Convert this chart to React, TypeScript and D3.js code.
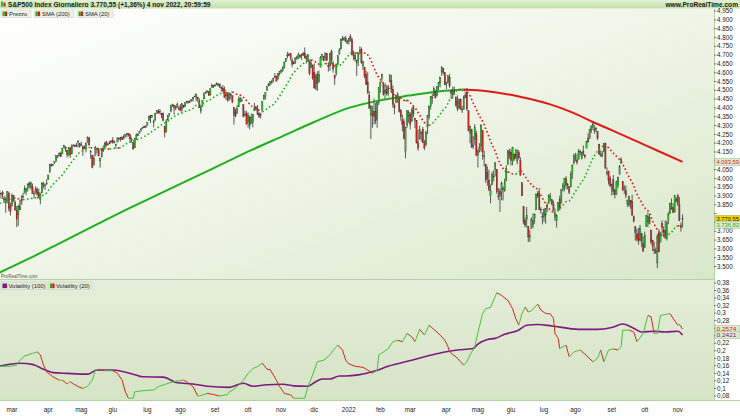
import React from "react";
import * as d3 from "d3";

type Bar = [number, number, number, number]; // open, high, low, close

// ---- daily OHLC, S&P 500, per month ----
const feb21: Bar[] = [
  [3918,3933,3900,3931.33],[3915,3921,3885,3913.97],[3921,3931,3884,3906.71],[3885,3902,3867,3876.5],
  [3857,3895,3805,3881.37],[3873,3928,3859,3925.43],[3915,3925,3814,3829.34],[3839,3862,3789,3811.15],
];
const mar21: Bar[] = [
  [3842,3914,3842,3901.82],[3903,3906,3868,3870.29],[3863,3874,3818,3819.72],[3818,3843,3723,3768.47],
  [3793,3851,3730,3841.94],[3844,3881,3822,3821.35],[3852,3904,3852,3875.44],[3891,3918,3885,3898.81],
  [3916,3960,3916,3939.34],[3924,3944,3905,3943.34],[3943,3970,3924,3968.94],[3974,3981,3944,3962.71],
  [3949,3983,3935,3974.12],[3953,3971,3914,3915.46],[3913,3930,3886,3913.1],[3916,3955,3916,3940.59],
  [3937,3949,3901,3910.52],[3919,3942,3889,3889.14],[3879,3919,3853,3909.52],[3917,3978,3917,3974.54],
  [3969,3981,3943,3971.09],[3963,3969,3935,3958.55],[3967,3994,3964,3972.89],
];
const apr21: Bar[] = [
  [3992,4020,3992,4019.87],[4034,4083,4034,4077.91],[4076,4086,4068,4073.94],[4074,4083,4068,4079.95],
  [4089,4098,4082,4097.17],[4096,4129,4096,4128.8],[4125,4131,4114,4127.99],[4130,4148,4124,4141.59],
  [4141,4151,4120,4124.66],[4139,4173,4139,4170.42],[4175,4191,4171,4185.47],[4179,4180,4151,4163.26],
  [4159,4160,4118,4134.94],[4128,4175,4126,4173.42],[4171,4179,4116,4134.98],[4138,4194,4138,4180.17],
  [4185,4194,4183,4187.62],[4188,4193,4176,4186.72],[4185,4201,4181,4183.18],[4206,4218,4176,4211.47],
  [4198,4198,4174,4181.17],
];
const may21: Bar[] = [
  [4191,4209,4188,4192.66],[4180,4187,4128,4164.66],[4177,4187,4166,4167.59],[4170,4202,4147,4201.62],
  [4210,4238,4201,4232.6],[4229,4236,4188,4188.43],[4150,4162,4111,4152.1],[4131,4134,4057,4063.04],
  [4075,4131,4075,4112.5],[4130,4183,4130,4173.85],[4169,4172,4143,4163.29],[4166,4170,4125,4127.83],
  [4099,4117,4061,4115.68],[4121,4172,4121,4159.12],[4169,4188,4151,4155.86],[4170,4209,4170,4197.05],
  [4205,4214,4182,4188.13],[4191,4203,4187,4195.99],[4201,4213,4197,4200.88],[4210,4219,4203,4204.11],
];
const jun21: Bar[] = [
  [4216,4234,4197,4202.04],[4206,4215,4198,4208.12],[4191,4197,4168,4192.85],[4206,4233,4206,4229.89],
  [4229,4232,4215,4226.52],[4233,4236,4210,4227.26],[4232,4238,4218,4219.55],[4229,4249,4220,4239.18],
  [4243,4249,4232,4247.44],[4248,4255,4234,4255.15],[4255,4257,4238,4246.59],[4248,4251,4203,4223.7],
  [4220,4233,4203,4221.86],[4204,4205,4164,4166.45],[4173,4226,4173,4224.79],[4224,4255,4218,4246.44],
  [4249,4256,4241,4241.84],[4256,4271,4256,4266.49],[4274,4286,4267,4280.7],[4285,4292,4281,4290.61],
  [4293,4300,4287,4291.8],[4290,4302,4287,4297.5],
];
const jul21: Bar[] = [
  [4300,4320,4300,4319.94],[4327,4355,4327,4352.34],[4357,4358,4314,4343.54],[4351,4361,4342,4358.13],
  [4321,4334,4289,4320.82],[4329,4372,4329,4369.55],[4373,4386,4366,4384.63],[4381,4393,4369,4369.21],
  [4381,4393,4363,4374.3],[4369,4370,4341,4360.03],[4368,4375,4324,4327.16],[4297,4297,4233,4258.49],
  [4265,4337,4259,4323.06],[4331,4359,4330,4358.69],[4362,4369,4351,4367.48],[4381,4415,4375,4411.79],
  [4410,4422,4406,4422.3],[4416,4416,4360,4401.46],[4402,4415,4387,4400.64],[4403,4430,4403,4419.15],
  [4396,4412,4387,4395.26],
];
const aug21: Bar[] = [
  [4406,4422,4381,4387.16],[4392,4423,4374,4423.15],[4416,4416,4400,4402.66],[4409,4429,4405,4429.1],
  [4429,4441,4425,4436.52],[4437,4440,4424,4432.35],[4436,4445,4429,4436.75],[4442,4449,4436,4447.7],
  [4447,4461,4435,4460.83],[4464,4468,4461,4468],[4461,4480,4437,4479.71],[4462,4462,4435,4448.08],
  [4440,4454,4400,4400.27],[4382,4418,4368,4405.8],[4410,4444,4407,4441.67],[4450,4489,4450,4479.53],
  [4484,4492,4482,4486.23],[4490,4501,4485,4496.19],[4493,4496,4469,4470],[4474,4509,4469,4509.37],
  [4514,4538,4514,4528.79],[4529,4531,4513,4522.68],
];
const sep21: Bar[] = [
  [4529,4537,4522,4524.09],[4534,4545,4528,4536.95],[4532,4541,4521,4535.43],[4536,4536,4513,4520.03],
  [4518,4521,4493,4514.07],[4513,4530,4493,4493.28],[4506,4521,4458,4458.58],[4474,4492,4446,4468.73],
  [4479,4485,4435,4443.05],[4447,4486,4441,4480.7],[4477,4485,4448,4473.75],[4469,4471,4427,4432.99],
  [4402,4403,4305,4357.73],[4375,4394,4347,4354.19],[4367,4416,4367,4395.64],[4406,4465,4406,4448.98],
  [4438,4463,4431,4455.48],[4442,4457,4437,4443.11],[4419,4419,4346,4352.63],[4362,4385,4353,4359.46],
  [4370,4382,4306,4307.54],
];
const oct21: Bar[] = [
  [4317,4375,4288,4357.04],[4348,4356,4278,4300.46],[4310,4369,4309,4345.72],[4319,4365,4290,4363.55],
  [4383,4429,4383,4399.76],[4406,4412,4386,4391.34],[4390,4416,4360,4361.19],[4368,4374,4342,4350.65],
  [4359,4372,4341,4363.8],[4387,4439,4387,4438.26],[4447,4475,4447,4471.37],[4463,4488,4447,4486.46],
  [4497,4520,4497,4519.63],[4524,4540,4524,4536.19],[4532,4551,4527,4549.78],[4547,4560,4538,4544.9],
  [4553,4572,4544,4566.48],[4579,4598,4570,4574.79],[4580,4584,4551,4551.68],[4563,4598,4562,4596.42],
  [4595,4608,4583,4605.38],
];
const nov21: Bar[] = [
  [4611,4620,4595,4613.67],[4614,4635,4604,4630.65],[4630,4664,4623,4660.57],[4662,4683,4662,4680.06],
  [4700,4718,4681,4697.53],[4702,4714,4697,4701.7],[4707,4708,4670,4685.25],[4670,4685,4630,4646.71],
  [4659,4665,4648,4649.27],[4655,4688,4651,4682.85],[4689,4697,4672,4682.8],[4679,4714,4679,4700.9],
  [4701,4701,4684,4688.67],[4700,4708,4672,4704.54],[4708,4717,4694,4697.96],[4712,4743,4682,4682.94],
  [4678,4699,4652,4690.7],[4675,4702,4659,4701.46],[4664,4664,4585,4594.62],[4628,4672,4626,4655.27],
  [4640,4647,4560,4567],
];
const dec21: Bar[] = [
  [4602,4652,4510,4513.04],[4504,4595,4504,4577.1],[4589,4608,4496,4538.43],[4548,4613,4541,4591.67],
  [4631,4694,4631,4686.75],[4690,4705,4670,4701.21],[4691,4695,4665,4667.45],[4688,4713,4666,4712.02],
  [4710,4710,4667,4668.97],[4642,4660,4606,4634.09],[4636,4712,4611,4709.85],[4720,4731,4651,4668.67],
  [4652,4666,4600,4620.64],[4587,4587,4531,4568.02],[4594,4651,4583,4649.23],[4645,4697,4645,4696.56],
  [4704,4740,4703,4725.79],[4733,4791,4733,4791.19],[4795,4808,4780,4786.35],[4788,4805,4778,4793.06],
  [4795,4808,4775,4778.73],[4775,4787,4766,4766.18],
];
const jan22: Bar[] = [
  [4778,4797,4759,4796.56],[4804,4819,4775,4793.54],[4787,4798,4699,4700.58],[4693,4726,4671,4696.05],
  [4697,4707,4663,4677.03],[4655,4674,4582,4670.29],[4669,4714,4638,4713.07],[4728,4749,4702,4726.35],
  [4733,4744,4650,4659.03],[4637,4666,4615,4662.85],[4632,4632,4568,4577.11],[4588,4611,4530,4532.76],
  [4547,4602,4483,4482.73],[4472,4494,4395,4397.94],[4357,4417,4223,4410.13],[4366,4412,4287,4356.45],
  [4381,4453,4305,4349.93],[4380,4428,4309,4326.51],[4337,4432,4287,4431.85],[4431,4516,4415,4515.55],
];
const feb22: Bar[] = [
  [4519,4550,4484,4546.54],[4566,4595,4544,4589.38],[4536,4542,4470,4477.44],[4483,4540,4452,4500.53],
  [4505,4521,4471,4483.87],[4480,4531,4465,4521.54],[4547,4590,4547,4587.18],[4554,4588,4484,4504.08],
  [4506,4527,4401,4418.64],[4413,4426,4364,4401.67],[4429,4472,4429,4471.07],[4455,4489,4429,4475.01],
  [4456,4456,4373,4380.26],[4385,4395,4328,4348.87],[4332,4362,4267,4304.76],[4325,4340,4221,4225.5],
  [4155,4294,4114,4288.7],[4299,4385,4287,4384.65],[4354,4388,4315,4373.94],
];
const mar22: Bar[] = [
  [4363,4375,4279,4306.26],[4322,4401,4322,4386.54],[4401,4417,4345,4363.49],[4342,4343,4285,4328.87],
  [4327,4327,4199,4201.09],[4203,4276,4157,4170.7],[4223,4299,4223,4277.88],[4252,4268,4209,4259.52],
  [4279,4292,4200,4204.31],[4203,4218,4161,4173.11],[4188,4271,4187,4262.45],[4288,4358,4251,4357.86],
  [4345,4412,4335,4411.67],[4407,4465,4390,4463.12],[4462,4481,4424,4461.18],[4469,4522,4469,4511.61],
  [4493,4501,4455,4456.24],[4469,4520,4465,4520.16],[4523,4546,4501,4543.06],[4541,4576,4517,4575.52],
  [4603,4637,4581,4631.6],[4624,4627,4588,4602.45],[4599,4604,4530,4530.41],
];
const apr22: Bar[] = [
  [4540,4548,4507,4545.86],[4547,4583,4539,4582.64],[4573,4593,4514,4525.12],[4495,4504,4450,4481.15],
  [4474,4521,4451,4500.21],[4494,4521,4473,4488.28],[4462,4464,4408,4412.53],[4437,4471,4381,4397.45],
  [4398,4453,4392,4446.59],[4449,4453,4392,4392.59],[4385,4411,4371,4391.69],[4390,4471,4390,4462.21],
  [4473,4489,4455,4459.45],[4489,4513,4384,4393.66],[4385,4386,4267,4271.78],[4255,4300,4200,4296.12],
  [4278,4278,4175,4175.2],[4186,4240,4167,4183.96],[4222,4308,4188,4287.5],[4253,4270,4128,4131.93],
];
const may22: Bar[] = [
  [4130,4169,4062,4155.38],[4159,4200,4147,4175.48],[4181,4308,4152,4300.17],[4270,4270,4106,4146.87],
  [4128,4157,4067,4123.34],[4081,4081,3975,3991.24],[4035,4068,3958,4001.05],[3991,4050,3928,3935.18],
  [3903,3964,3859,3930.08],[3963,4038,3963,4023.89],[4014,4046,3983,4008.01],[4052,4089,4011,4088.85],
  [4052,4052,3912,3923.68],[3900,3945,3877,3900.79],[3927,3943,3810,3901.36],[3920,3982,3876,3973.75],
  [3942,3955,3875,3941.48],[3929,3999,3925,3978.73],[3985,4075,3985,4057.84],[4078,4158,4078,4158.24],
  [4151,4169,4110,4132.15],
];
const jun22: Bar[] = [
  [4149,4166,4073,4101.23],[4096,4177,4074,4176.82],[4137,4142,4098,4108.54],[4134,4168,4109,4121.43],
  [4097,4164,4080,4160.68],[4147,4160,4107,4115.77],[4101,4120,4017,4017.82],[3975,3975,3900,3900.86],
  [3839,3839,3740,3749.63],[3763,3779,3722,3735.48],[3765,3838,3722,3789.99],[3729,3729,3639,3666.77],
  [3665,3708,3639,3674.84],[3715,3779,3715,3764.79],[3733,3801,3717,3759.89],[3774,3802,3743,3795.73],
  [3821,3913,3821,3911.74],[3913,3928,3889,3900.11],[3913,3945,3820,3821.55],[3826,3837,3800,3818.83],
  [3785,3807,3739,3785.38],
];
const jul22: Bar[] = [
  [3781,3829,3753,3825.33],[3792,3832,3743,3831.39],[3831,3863,3810,3845.08],[3858,3910,3858,3902.62],
  [3888,3918,3869,3899.38],[3880,3880,3847,3854.43],[3851,3874,3817,3818.8],[3779,3829,3758,3801.78],
  [3763,3796,3721,3790.38],[3819,3864,3817,3863.16],[3883,3902,3818,3830.85],[3860,3939,3860,3936.69],
  [3936,3975,3925,3959.9],[3955,3999,3927,3998.95],[4000,4013,3939,3961.63],[3965,3975,3937,3966.84],
  [3953,3953,3911,3921.05],[3951,4040,3951,4023.61],[4027,4079,3996,4072.43],[4088,4140,4079,4130.29],
];
const aug22: Bar[] = [
  [4113,4144,4097,4118.63],[4105,4141,4079,4091.19],[4107,4167,4107,4155.17],[4154,4162,4129,4151.94],
  [4115,4152,4107,4145.19],[4155,4187,4128,4140.06],[4133,4137,4112,4122.47],[4171,4211,4171,4210.24],
  [4227,4257,4201,4207.27],[4225,4280,4225,4280.15],[4269,4301,4257,4297.14],[4290,4325,4277,4305.2],
  [4280,4302,4253,4274.04],[4273,4292,4262,4283.74],[4267,4267,4218,4228.48],[4195,4195,4132,4137.99],
  [4133,4159,4124,4128.73],[4127,4156,4120,4140.77],[4154,4200,4147,4199.12],[4199,4203,4057,4057.66],
  [4034,4062,4017,4030.61],[4041,4044,3965,3986.16],[4000,4015,3954,3955],
];
const sep22: Bar[] = [
  [3936,3971,3903,3966.85],[3994,4019,3906,3924.26],[3930,3942,3886,3908.19],[3910,3987,3906,3979.87],
  [3959,4010,3944,4006.18],[4022,4076,4022,4067.36],[4083,4119,4083,4110.41],[3983,3985,3930,3932.69],
  [3940,3961,3913,3946.01],[3932,3959,3888,3901.35],[3860,3880,3838,3873.33],[3849,3900,3839,3899.89],
  [3875,3876,3827,3855.93],[3871,3907,3789,3789.93],[3782,3790,3749,3757.99],[3727,3727,3647,3693.23],
  [3682,3716,3644,3655.04],[3687,3717,3623,3647.29],[3651,3736,3640,3719.04],[3687,3687,3610,3640.47],
  [3633,3671,3584,3585.62],
];
const oct22: Bar[] = [
  [3609,3698,3604,3678.43],[3726,3791,3726,3790.93],[3753,3806,3723,3783.28],[3777,3797,3739,3744.52],
  [3706,3709,3627,3639.66],[3647,3652,3588,3612.39],[3595,3641,3570,3588.84],[3590,3608,3573,3577.03],
  [3520,3685,3491,3669.91],[3690,3712,3581,3583.07],[3638,3695,3638,3677.95],[3746,3762,3687,3719.98],
  [3703,3728,3666,3695.16],[3706,3762,3657,3665.78],[3657,3757,3647,3752.75],[3762,3810,3741,3797.34],
  [3799,3862,3799,3859.11],[3825,3886,3825,3830.6],[3834,3860,3803,3807.3],[3808,3905,3808,3901.06],
  [3882,3893,3864,3871.98],
];
const nov22: Bar[] = [
  [3901,3911,3843,3856.1],[3853,3894,3758,3759.69],[3734,3750,3698,3719.89],[3766,3796,3721,3770.55],
];

// closes before the visible window (for the 20-day average)
const preCloses = [
  3851.85,3853.07,3841.47,3855.36,3849.62,3750.77,3787.38,3714.24,3773.86,3826.31,
  3830.17,3871.74,3886.83,3915.59,3911.23,3909.88,3916.38,3934.83,3932.59,
];

const monthBars: Bar[][] = [feb21,mar21,apr21,may21,jun21,jul21,aug21,sep21,oct21,nov21,dec21,
  jan22,feb22,mar22,apr22,may22,jun22,jul22,aug22,sep22,oct22,nov22];
const monthLabels = ["","mar","apr","mag","giu","lug","ago","set","ott","nov","dic",
  "2022","feb","mar","apr","mag","giu","lug","ago","set","ott","nov"];

// SMA(200) at bar indexes
const sma200Idx = [0,20,40,60,80,100,120,140,160,180,200,222,240,260,280,295,310,330,350,365,377,390,405,420,434];
const sma200Val = [3465,3550,3640,3730,3820,3905,3990,4075,4160,4240,4320,4400,4440,4470,4495,4505,4495,4465,4420,4370,4320,4270,4210,4150,4093.59];

// Volatility (20)
const vol20Idx = [0,7,11,13,16,21,24,26,28,30,34,38,40,43,45,47,50,53,56,59,61,63,66,72,75,78,80,82,85,86,89,94,98,101,104,108,113,117,119,123,126,127,132,136,140,145,146,148,151,155,158,161,164,167,170,172,174,176,178,181,185,187,190,194,196,199,202,206,210,213,215,218,220,222,226,231,234,237,240,241,244,247,250,253,256,259,262,264,267,270,273,276,280,283,285,286,290,293,295,297,299,302,304,307,309,312,313,316,319,323,326,328,330,332,334,336,338,342,344,347,350,352,353,355,356,360,362,365,369,372,377,380,382,384,387,390,393,395,396,400,403,405,409,412,414,416,418,420,423,426,428,431,432,434];
const vol20Val = [0.159,0.159,0.162,0.175,0.186,0.193,0.197,0.189,0.162,0.144,0.131,0.122,0.122,0.112,0.118,0.112,0.105,0.1,0.106,0.122,0.149,0.151,0.147,0.147,0.14,0.122,0.091,0.074,0.074,0.091,0.093,0.095,0.096,0.105,0.109,0.115,0.12,0.122,0.118,0.105,0.08,0.08,0.087,0.084,0.08,0.084,0.091,0.095,0.105,0.122,0.14,0.153,0.158,0.167,0.151,0.15,0.136,0.122,0.105,0.087,0.083,0.074,0.074,0.074,0.105,0.136,0.171,0.175,0.189,0.206,0.215,0.202,0.175,0.165,0.159,0.156,0.149,0.14,0.149,0.189,0.197,0.206,0.224,0.228,0.224,0.246,0.237,0.224,0.257,0.242,0.268,0.257,0.242,0.228,0.211,0.197,0.184,0.171,0.162,0.171,0.189,0.211,0.248,0.299,0.312,0.315,0.325,0.354,0.347,0.334,0.312,0.286,0.268,0.299,0.316,0.303,0.306,0.324,0.308,0.299,0.298,0.286,0.246,0.233,0.206,0.215,0.184,0.197,0.202,0.191,0.171,0.18,0.202,0.171,0.202,0.205,0.202,0.211,0.255,0.255,0.25,0.224,0.246,0.294,0.29,0.246,0.246,0.294,0.296,0.299,0.286,0.268,0.27,0.2574];

// Volatility (100)
const vol100Idx = [0,13,21,24,28,34,43,56,62,72,85,91,104,113,123,132,146,155,161,170,180,187,196,201,205,210,216,220,228,239,247,262,272,283,291,301,304,310,315,321,329,335,342,351,368,380,389,396,402,408,416,423,431,434];
const vol100Val = [0.159,0.167,0.164,0.159,0.151,0.142,0.14,0.138,0.149,0.149,0.138,0.131,0.13,0.115,0.112,0.106,0.103,0.114,0.106,0.11,0.111,0.107,0.106,0.118,0.125,0.125,0.133,0.133,0.136,0.147,0.159,0.175,0.186,0.197,0.202,0.206,0.218,0.23,0.233,0.244,0.253,0.268,0.27,0.266,0.257,0.257,0.262,0.271,0.262,0.25,0.252,0.25,0.252,0.2421];

const priceTicks = d3.range(3500, 4951, 50);
const volTicks = d3.range(4, 20).map((k) => k * 0.02);

const titleText = "S&P500 Index Giornaliero 3.770,55 (+1,36%) 4 nov 2022, 20:59:59";
const lastSma200Label = "4.093,59";
const lastCloseLabel = "3.770,55";
const lastSma20Label = "3.736,82";
const lastVol20Label = "0,2574";
const lastVol100Label = "0,2421";
const lastSma20Value = 3736.82;

const GREEN = "#1fae1f";
const RED = "#e01818";
const CGREEN = "#22c022";
const CRED = "#d42020";
const PURPLE = "#7e1a80";
const FONT = "'Liberation Sans', Arial, sans-serif";

const fmtPrice = (v: number) => `${Math.floor(v / 1000)}.${String(Math.round(v % 1000)).padStart(3, "0")}`;
const fmtVol = (v: number) => String(+v.toFixed(2)).replace(".", ",");

function runs(pts: { x: number; y: number }[], up: (i: number) => boolean) {
  const out: { d: string; up: boolean }[] = [];
  let cur: { pts: [number, number][]; up: boolean } | null = null;
  for (let i = 1; i < pts.length; i++) {
    const u = up(i);
    if (!cur || cur.up !== u) {
      if (cur) out.push({ d: "M" + cur.pts.map((p) => p.join(",")).join("L"), up: cur.up });
      cur = { pts: [[pts[i - 1].x, pts[i - 1].y]], up: u };
    }
    cur.pts.push([pts[i].x, pts[i].y]);
  }
  if (cur) out.push({ d: "M" + cur.pts.map((p) => p.join(",")).join("L"), up: cur.up });
  return out;
}

export default function App() {
  const W = 740, H = 416;
  const plotR = 714;
  const upTop = 9, upBot = 279, loTop = 280, loBot = 400;

  const bars: Bar[] = monthBars.flat();
  const monthStarts: number[] = [];
  let acc = 0;
  monthBars.forEach((m) => { monthStarts.push(acc); acc += m.length; });

  const x = d3.scaleLinear().domain([8, 431]).range([12, 677.8]);
  const y = d3.scaleLinear().domain([3500, 4950]).range([266.5, 11]);
  const yv = d3.scaleLinear().domain([0.08, 0.38]).range([396, 283]);

  const closes = bars.map((b) => b[3]);
  const all = preCloses.concat(closes);
  const sma20 = closes.map((_, i) => d3.mean(all.slice(i, i + 20)) as number);
  const smaPts = sma20.map((v, i) => ({ x: x(i), y: y(v) }));
  const smaRuns = runs(smaPts, (i) => sma20[i] >= sma20[i - 1]);

  const line = d3.line<[number, number]>().curve(d3.curveMonotoneX);
  const s200 = sma200Idx.map((idx, k) => [x(idx), y(sma200Val[k])] as [number, number]);
  const peak = d3.maxIndex(sma200Val);
  const s200Up = line(s200.slice(0, peak + 1)) || "";
  const s200Dn = line(s200.slice(peak)) || "";

  const v20Pts = vol20Idx.map((idx, k) => ({ x: x(idx), y: yv(vol20Val[k]) }));
  const v20Runs = runs(v20Pts, (i) => vol20Val[i] >= vol20Val[i - 1]);
  const v100 = d3.line<number>().x((_, k) => x(vol100Idx[k])).y((v) => yv(v)).curve(d3.curveMonotoneX)(vol100Val) || "";

  const bw = 1.3;

  const priceBoxes = [
    { yy: y(sma200Val[sma200Val.length - 1]), label: lastSma200Label, bg: "#dcebd0", fg: RED },
    { yy: y(closes[closes.length - 1]), label: lastCloseLabel, bg: "#f2d400", fg: "#1a1a1a" },
    { yy: y(lastSma20Value), label: lastSma20Label, bg: "#dcebd0", fg: GREEN },
  ];
  const volBoxes = [
    { yy: yv(vol20Val[vol20Val.length - 1]), label: lastVol20Label, bg: "#dcebd0", fg: RED },
    { yy: yv(vol100Val[vol100Val.length - 1]), label: lastVol100Label, bg: "#dcebd0", fg: PURPLE },
  ];
  const hidden = (yy: number, boxes: { yy: number }[]) => boxes.some((b) => Math.abs(b.yy - yy) < 5.5);

  const hiBox = (b: { yy: number; label: string; bg: string; fg: string }, key: string) => (
    <g key={key}>
      <rect x={715} y={b.yy - 3.6} width={25} height={7.2} fill={b.bg} stroke="#9ab88a" strokeWidth={0.5} />
      <text x={716.5} y={b.yy + 2.2} fontSize={6} fill={b.fg} fontFamily={FONT}
        textLength={b.label.length > 6 ? 22.5 : 20} lengthAdjust="spacingAndGlyphs">{b.label}</text>
    </g>
  );

  return (
    <svg width={W} height={H} style={{ position: "absolute", left: 0, top: 0, background: "#fff" }}>
      <defs>
        <linearGradient id="upbg" x1="0" y1="0" x2="1" y2="1">
          <stop offset="0" stopColor="#ffffff" />
          <stop offset="0.45" stopColor="#f1f6ea" />
          <stop offset="1" stopColor="#d9e7c9" />
        </linearGradient>
        <linearGradient id="lobg" x1="0" y1="0" x2="0" y2="1">
          <stop offset="0" stopColor="#e4edd9" />
          <stop offset="1" stopColor="#d6e4c6" />
        </linearGradient>
        <linearGradient id="hdr" x1="0" y1="0" x2="0" y2="1">
          <stop offset="0" stopColor="#e2f2d4" />
          <stop offset="1" stopColor="#c2e0a6" />
        </linearGradient>
        <clipPath id="cu"><rect x={0} y={upTop} width={plotR} height={upBot - upTop} /></clipPath>
        <clipPath id="cl"><rect x={0} y={loTop} width={plotR} height={loBot - loTop} /></clipPath>
      </defs>

      {/* panels */}
      <rect x={0} y={upTop} width={plotR} height={upBot - upTop} fill="url(#upbg)" />
      <rect x={0} y={loTop} width={plotR} height={loBot - loTop} fill="url(#lobg)" />
      <line x1={0} x2={plotR} y1={upBot + 0.5} y2={upBot + 0.5} stroke="#b9cfa6" />
      <line x1={0} x2={W} y1={loBot + 0.5} y2={loBot + 0.5} stroke="#b9cfa6" />
      <line x1={plotR + 0.5} x2={plotR + 0.5} y1={upTop} y2={loBot} stroke="#b9cfa6" />

      {/* header */}
      <rect x={0} y={0} width={W} height={8.5} fill="url(#hdr)" />
      <rect x={1} y={1.5} width={2} height={5} fill={CGREEN} />
      <rect x={3.5} y={2.5} width={2} height={4} fill={CRED} />
      <text x={8} y={7} fontSize={6.6} fontWeight="bold" fill="#1a1a1a" fontFamily={FONT}>{titleText}</text>
      <text x={738} y={7} fontSize={6.6} fontWeight="bold" fill="#1a1a1a" textAnchor="end" fontFamily={FONT}>www.ProRealTime.com</text>

      {/* price panel */}
      <g clipPath="url(#cu)">
        <path d={s200Up} fill="none" stroke={GREEN} strokeWidth={2} />
        <path d={s200Dn} fill="none" stroke={RED} strokeWidth={2} />
        {bars.map((b, i) => {
          const [o, h0, l0, c] = b;
          const h = Math.max(h0, o, c), l = Math.min(l0, o, c);
          const cx = x(i);
          const top = y(Math.max(o, c)), bot = y(Math.min(o, c));
          return (
            <g key={i}>
              <line x1={cx} x2={cx} y1={y(h)} y2={y(l)} stroke="#4a4a4a" strokeWidth={0.9} />
              <rect x={cx - bw / 2} y={top} width={bw} height={Math.max(1, bot - top)}
                fill={c >= o ? CGREEN : CRED} stroke="#3a3a3a" strokeWidth={0.3} />
            </g>
          );
        })}
        {smaRuns.map((r, k) => (
          <path key={k} d={r.d} fill="none" stroke={r.up ? GREEN : RED} strokeWidth={1.6} strokeDasharray="1.6 2.4" />
        ))}
      </g>
      <text x={1} y={277.5} fontSize={4.6} fill="#555" fontFamily={FONT}>ProRealTime.com</text>

      {/* price legend */}
      {[
        { x0: 1, w: 30, label: "Prezzo", col: CGREEN },
        { x0: 34, w: 40, label: "SMA (200)", col: GREEN },
        { x0: 77, w: 36, label: "SMA (20)", col: GREEN },
      ].map((l, k) => (
        <g key={k}>
          <rect x={l.x0} y={10} width={l.w} height={7.5} fill="#eef3e8" stroke="#c4ccbc" strokeWidth={0.5} />
          <rect x={l.x0 + 1.5} y={11.5} width={2.3} height={4.6} fill={l.col} />
          <rect x={l.x0 + 3.8} y={11.5} width={2.3} height={4.6} fill={RED} />
          <text x={l.x0 + 8} y={16.1} fontSize={5.9} fill="#1a1a1a" fontFamily={FONT}>{l.label}</text>
        </g>
      ))}

      {/* price axis */}
      {priceTicks.map((t) => (
        <g key={t}>
          <line x1={plotR} x2={plotR + 2.5} y1={y(t)} y2={y(t)} stroke="#333" strokeWidth={0.6} />
          {!hidden(y(t), priceBoxes) && (
            <text x={717} y={y(t) + 2.2} fontSize={6.3} fill="#1a1a1a" fontFamily={FONT}>{fmtPrice(t)}</text>
          )}
        </g>
      ))}
      {priceBoxes.map((b, k) => hiBox(b, "p" + k))}

      {/* volatility panel */}
      <g clipPath="url(#cl)">
        <path d={v100} fill="none" stroke={PURPLE} strokeWidth={1.6} />
        {v20Runs.map((r, k) => (
          <path key={k} d={r.d} fill="none" stroke={r.up ? "#4cbf3c" : "#d02a1a"} strokeWidth={1} />
        ))}
      </g>
      <g>
        <rect x={1} y={282} width={46} height={7.5} fill="#e3ecd8" stroke="#c4ccbc" strokeWidth={0.5} />
        <rect x={2.5} y={283.5} width={4.6} height={4.6} fill={PURPLE} />
        <text x={8.5} y={288.2} fontSize={5.9} fill="#1a1a1a" fontFamily={FONT}>Volatility (100)</text>
        <rect x={48.5} y={282} width={43} height={7.5} fill="#e3ecd8" stroke="#c4ccbc" strokeWidth={0.5} />
        <rect x={50} y={283.5} width={2.3} height={4.6} fill={GREEN} />
        <rect x={52.3} y={283.5} width={2.3} height={4.6} fill={RED} />
        <text x={56} y={288.2} fontSize={5.9} fill="#1a1a1a" fontFamily={FONT}>Volatility (20)</text>
      </g>
      {volTicks.map((t) => (
        <g key={t}>
          <line x1={plotR} x2={plotR + 2.5} y1={yv(t)} y2={yv(t)} stroke="#333" strokeWidth={0.6} />
          {!hidden(yv(t), volBoxes) && (
            <text x={717} y={yv(t) + 2.2} fontSize={6.3} fill="#1a1a1a" fontFamily={FONT}>{fmtVol(t)}</text>
          )}
        </g>
      ))}
      {volBoxes.map((b, k) => hiBox(b, "v" + k))}

      {/* time axis */}
      {monthStarts.map((s, k) =>
        monthLabels[k] ? (
          <text key={k} x={x(s)} y={411.5} fontSize={6.3} textAnchor="middle" fill="#1a1a1a" fontFamily={FONT}>
            {monthLabels[k]}
          </text>
        ) : null
      )}
    </svg>
  );
}
